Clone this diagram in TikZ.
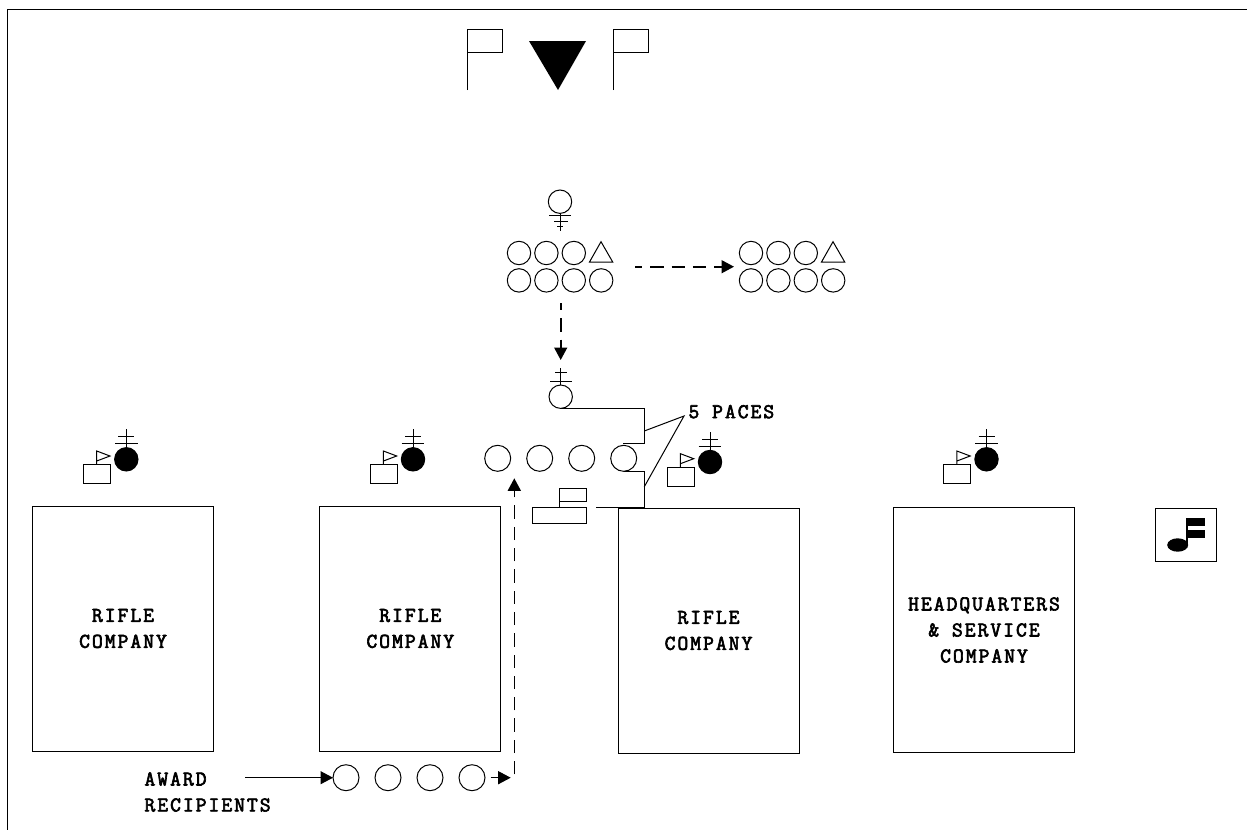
\documentclass[tikz,border=0pt]{standalone}
\usepackage{fontspec}
\usepackage{xcolor}
\usepackage{tikz}
\usetikzlibrary{arrows.meta,positioning}
\newfontfamily\labelfont[FakeBold=3, LetterSpace=9.5]{Latin Modern Mono}

\begin{document}
\begin{tikzpicture}[
  x=1pt, y=-1pt,
  line width=1pt,
  node distance=4pt,
  company/.style={draw, align=center, minimum width=181pt, minimum height=245pt, inner sep=0pt, outer sep=0pt, font=\labelfont\fontsize{21}{26}\selectfont},
  man/.style={draw, circle, minimum size=23.4pt, inner sep=0pt, outer sep=0pt},
  staff/.style={draw, circle, minimum size=26pt, inner sep=0pt, outer sep=0pt},
  caption/.style={inner sep=0pt, anchor=west, font=\labelfont\fontsize{21}{26}\selectfont},
  arrow/.style={-{Triangle[length=12.5pt, width=13pt]}},
  dasharrow/.style={arrow, line width=1.6pt, dash pattern=on 13.3pt off 8pt},
  commander/.pic={
    \draw (-42.6,5.4) rectangle (-15.6,24.4);
    \draw (-29.6,5.4) -- (-29.6,-8.3) -- (-16.3,-3.3) -- (-29.6,1.7);
    \node[man, fill=black] (-dot) at (0,0) {};
    \draw (-dot.north) -- (0,-30);
    \draw (-11.3,-15.6) -- (11.3,-15.6);
    \draw (-8,-22.6) -- (8,-22.6);
  }
]
\useasboundingbox (0,0) rectangle (1247,830);
\draw (1247,9) -- (7,9) -- (7,830);

% colors and reviewing officer
\draw (467,90) -- (467,29) -- (502,29) -- (502,52) -- (467,52);
\draw (613,90) -- (613,29) -- (648,29) -- (648,52) -- (613,52);
\fill (529,41) -- (586,41) -- (558,90) -- cycle;

% firing party
\node[man] (adjutant) at (560,201.7) {};
\draw (adjutant.south) -- (560,231);
\draw (549,215.5) -- (571,215.5);
\draw (554,221.7) -- (568,221.7);
\draw (557,226) -- (563,226);
\node[man] (rowAa) at (519,253) {};
\node[man, right=of rowAa] (rowAb) {};
\node[man, right=of rowAb] (rowAc) {};
\node[man, below=of rowAa] (rowAe) {};
\node[man, right=of rowAe] (rowAf) {};
\node[man, right=of rowAf] (rowAg) {};
\node[man, right=of rowAg] (rowAh) {};
\draw (589.5,262) -- (601,241.7) -- (612.7,262) -- cycle;
\node[man] (rowBa) at (751,253) {};
\node[man, right=of rowBa] (rowBb) {};
\node[man, right=of rowBb] (rowBc) {};
\node[man, below=of rowBa] (rowBe) {};
\node[man, right=of rowBe] (rowBf) {};
\node[man, right=of rowBf] (rowBg) {};
\node[man, right=of rowBg] (rowBh) {};
\draw (821.5,262) -- (833,241.7) -- (844.7,262) -- cycle;
\coordinate (moveA) at (635,266.7);
\coordinate (moveB) at (734,266.7);
\draw[dasharrow, dash phase=6pt] (moveA) -- (moveB);
\coordinate (moveC) at (560.7,303);
\coordinate (moveD) at (560.7,360);
\draw[dasharrow, dash phase=6pt] (moveC) -- (moveD);

% commander of troops and staff
\node[man] (cot) at (560.7,396.7) {};
\draw (cot.north) -- (560.7,368);
\draw (550,381) -- (572,381);
\draw (555,372.7) -- (567,372.7);
\node[staff] (staffA) at (497.7,458.3) {};
\node[staff, right=16pt of staffA] (staffB) {};
\node[staff, right=16pt of staffB] (staffC) {};
\node[staff, right=16pt of staffC] (staffD) {};
\coordinate (paceA) at (623,443);
\coordinate (paceB) at (596,507.7);
\draw (cot.south) -| (644.3,443) -- (paceA);
\draw (staffD.south) -| (644.3,507.7) -- (paceB);
\node[caption] (paces) at (688,411.7) {5 PACES};
\draw (644.3,431) -- (684,416) -- (644.3,486.7);
\draw (532.7,507.3) rectangle (586.7,523.3);
\draw (559.3,507.3) -- (559.3,488.7) -- (586.7,488.7) -- (586.7,501.7) -- (559.3,501.7);

% companies
\node[company] (coA) at (123,628.5) {RIFLE\\COMPANY};
\node[company] (coB) at (410.3,628.5) {RIFLE\\COMPANY};
\node[company] (coC) at (708.5,630.5) {RIFLE\\COMPANY};
\node[company] (coD) at (984,630) {HEADQUARTERS\\\& SERVICE\\COMPANY};
\pic (cmdA) at (126.3,459.3) {commander};
\pic (cmdB) at (413,459.3) {commander};
\pic (cmdC) at (710,462) {commander};
\pic (cmdD) at (986.5,459.3) {commander};

% band
\node[draw, minimum width=60.6pt, minimum height=53pt, inner sep=0pt] (band) at (1186,534.8) {};
\fill (1177.7,545) ellipse (10.5 and 6.7);
\fill (1186,545) rectangle (1188,518.3);
\fill (1186.7,518.3) rectangle (1205,526);
\fill (1186.7,530) rectangle (1205,537.7);

% award recipients
\node[caption] (award) at (144,779) {AWARD};
\node[caption] (recipients) at (144,805) {RECIPIENTS};
\node[staff] (awardA) at (346,777.7) {};
\node[staff, right=16pt of awardA] (awardB) {};
\node[staff, right=16pt of awardB] (awardC) {};
\node[staff, right=16pt of awardC] (awardD) {};
\coordinate (awardIn) at (245,777.7);
\draw[arrow] (awardIn) -- (awardA);
\coordinate (awardOut) at (510.7,777.7);
\coordinate (awardEnd) at (490.7,777.7);
\draw[arrow] (awardEnd) -- (awardOut);
\coordinate (marchA) at (514.3,774.3);
\coordinate (marchB) at (514.3,478.3);
\draw[dasharrow] (marchA) -- (marchB);
\end{tikzpicture}
\end{document}
